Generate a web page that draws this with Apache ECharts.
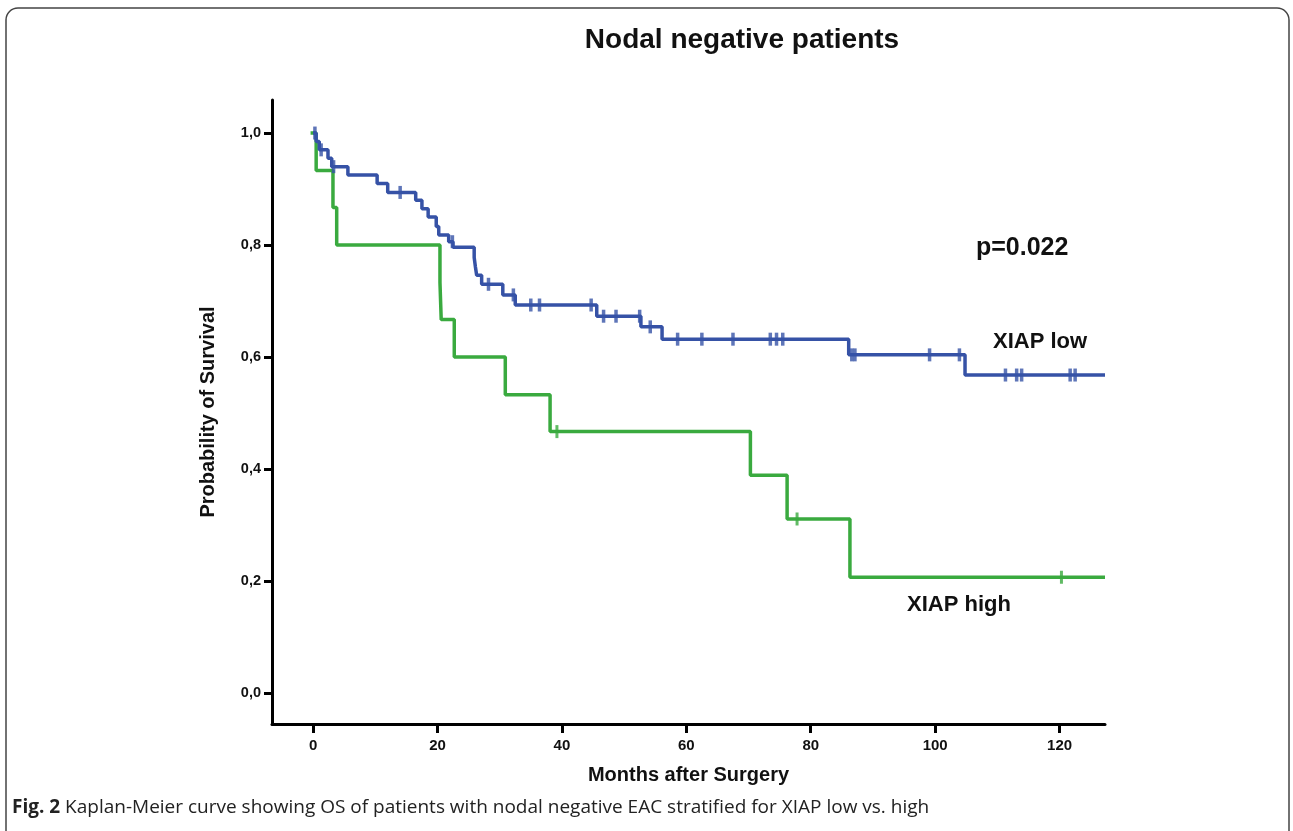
<!DOCTYPE html>
<html>
<head>
<meta charset="utf-8">
<script src="https://cdn.jsdelivr.net/npm/echarts@6/dist/echarts.min.js"></script>
<style>
html, body { margin: 0; padding: 0; background: #fff; }
#main { width: 1293px; height: 831px; }
</style>
</head>
<body>
<div id="main"></div>
<script>
// 数据：XIAP low (蓝) —— 事件时间与生存率
var lowTimes = [0, 0.5, 1.0, 2.4, 3.0, 5.6, 10.3, 12.0, 16.5, 17.5, 18.5, 19.8, 20.2, 21.8, 22.5, 25.9, 26.1, 26.3, 27.1, 30.5, 32.5, 45.6, 52.7, 56.1, 86.1, 104.8, 127.3];
var lowSurv  = [1.0, 0.985, 0.970, 0.955, 0.940, 0.925, 0.910, 0.894, 0.880, 0.865, 0.850, 0.833, 0.818, 0.806, 0.796, 0.778, 0.761, 0.746, 0.730, 0.711, 0.693, 0.673, 0.654, 0.632, 0.604, 0.568, 0.568];
var lowCensor = [0.3, 1.3, 3.3, 14.0, 22.4, 28.2, 32.2, 35.0, 36.4, 44.7, 46.7, 48.7, 52.5, 54.2, 58.6, 62.5, 67.5, 73.5, 74.5, 75.5, 86.6, 87.1, 99.1, 103.9, 111.3, 113.1, 113.9, 121.7, 122.5];

// 数据：XIAP high (绿)
var highTimes = [-0.4, 0.5, 3.2, 3.8, 20.4, 20.6, 22.7, 30.9, 38.1, 70.3, 76.2, 86.3, 127.3];
var highSurv  = [1.0, 0.933, 0.867, 0.800, 0.733, 0.667, 0.600, 0.533, 0.467, 0.389, 0.311, 0.207, 0.207];
var highCensor = [39.2, 77.8, 120.3];

// 坐标轴刻度
var xTicks = [0, 20, 40, 60, 80, 100, 120];
var yTicks = [0, 0.2, 0.4, 0.6, 0.8, 1.0];

var blue = '#3652a6';
var green = '#3aaa3f';
var font = '"Liberation Sans", Arial, sans-serif';

function toPairs(ts, ss) {
	return ts.map(function(t, i) { return [t, ss[i]]; });
}
// 删失点的纵坐标取自阶梯曲线
function survAt(ts, ss, t) {
	var v = ss[0];
	for (var i = 0; i < ts.length; i++) {
		if (ts[i] <= t) v = ss[i];
	}
	return v;
}
function censorPairs(cs, ts, ss) {
	return cs.map(function(t) { return [t, survAt(ts, ss, t)]; });
}

var myChart = echarts.init(document.getElementById('main'));

var option = {
	backgroundColor: '#ffffff',
	animation: false,
	title: {
		text: 'Nodal negative patients',
		left: 737,
		textAlign: 'center',
		top: 21,
		textStyle: { fontFamily: font, fontWeight: 'bold', fontSize: 28, color: '#111' }
	},
	grid: { left: 272, right: 188, top: 100, bottom: 107 },
	xAxis: {
		type: 'value',
		min: -6.6,
		max: 127.3,
		name: 'Months after Surgery',
		nameLocation: 'middle',
		nameGap: 41,
		nameTextStyle: { fontFamily: font, fontWeight: 'bold', fontSize: 20, color: '#111' },
		splitLine: { show: false },
		axisLine: { show: true, onZero: false, lineStyle: { color: '#000', width: 3 } },
		axisTick: { show: true, customValues: xTicks, length: 9, lineStyle: { color: '#000', width: 3 } },
		axisLabel: {
			customValues: xTicks,
			margin: 14,
			fontFamily: font, fontWeight: 'bold', fontSize: 15, color: '#111'
		}
	},
	yAxis: {
		type: 'value',
		min: -0.055,
		max: 1.059,
		name: 'Probability of Survival',
		nameLocation: 'middle',
		nameGap: 54,
		nameTextStyle: { fontFamily: font, fontWeight: 'bold', fontSize: 20, color: '#111' },
		splitLine: { show: false },
		axisLine: { show: true, onZero: false, lineStyle: { color: '#000', width: 3 } },
		axisTick: { show: true, customValues: yTicks, length: 8, lineStyle: { color: '#000', width: 3 } },
		axisLabel: {
			customValues: yTicks,
			margin: 11,
			fontFamily: font, fontWeight: 'bold', fontSize: 14.5, color: '#111',
			formatter: function(v) { return v.toFixed(1).replace('.', ','); }
		}
	},
	series: [{
		name: 'XIAP high',
		type: 'line',
		step: 'end',
		symbol: 'none',
		lineStyle: { color: green, width: 3.5 },
		data: toPairs(highTimes, highSurv),
		z: 2
	}, {
		name: 'XIAP low',
		type: 'line',
		step: 'end',
		symbol: 'none',
		lineStyle: { color: blue, width: 3.5 },
		data: toPairs(lowTimes, lowSurv),
		z: 3
	}, {
		type: 'scatter',
		symbol: 'rect',
		symbolSize: [3, 13],
		itemStyle: { color: green },
		data: censorPairs(highCensor, highTimes, highSurv),
		z: 2
	}, {
		type: 'scatter',
		symbol: 'rect',
		symbolSize: [3.5, 13],
		itemStyle: { color: blue },
		data: censorPairs(lowCensor, lowTimes, lowSurv),
		z: 3
	}],
	graphic: [{
		type: 'rect',
		shape: { x: 6, y: 8, width: 1283, height: 900, r: 12 },
		style: { fill: 'none', stroke: '#444', lineWidth: 1.5 },
		silent: true
	}, {
		type: 'text',
		left: 976, top: 236,
		style: { text: 'p=0.022', fontFamily: font, fontWeight: 'bold', fontSize: 25, fill: '#111' }
	}, {
		type: 'text',
		left: 993, top: 331,
		style: { text: 'XIAP low', fontFamily: font, fontWeight: 'bold', fontSize: 22, fill: '#111' }
	}, {
		type: 'text',
		left: 907, top: 594,
		style: { text: 'XIAP high', fontFamily: font, fontWeight: 'bold', fontSize: 22, fill: '#111' }
	}, {
		type: 'text',
		left: 12, top: 798,
		style: {
			text: '{b|Fig. 2} Kaplan-Meier curve showing OS of patients with nodal negative EAC stratified for XIAP low vs. high',
			fontFamily: '"Open Sans", sans-serif', fontSize: 19, fill: '#222',
			rich: { b: { fontFamily: '"Open Sans", sans-serif', fontWeight: 'bold', fontSize: 19, fill: '#222' } }
		}
	}]
};

myChart.setOption(option);
</script>
</body>
</html>
